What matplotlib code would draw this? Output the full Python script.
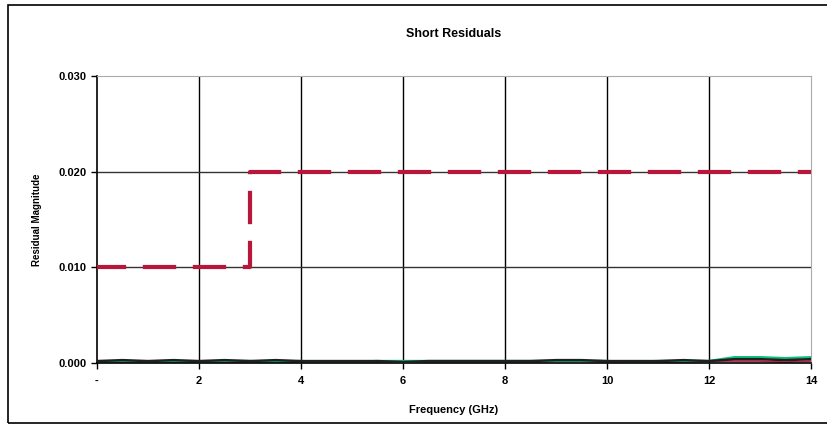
import matplotlib
matplotlib.use("Agg")
import matplotlib.pyplot as plt
import numpy as np

plt.rcParams['font.family'] = ['Liberation Sans', 'DejaVu Sans']
plt.rcParams['font.weight'] = 'bold'

# limit line (spec)
limitFreq = [0, 3, 3, 14]
limitVal = [0.010, 0.010, 0.020, 0.020]

freq = [0, 0.5, 1, 1.5, 2, 2.5, 3, 3.5, 4, 4.5, 5, 5.5, 6, 6.5, 7, 7.5, 8, 8.5,
        9, 9.5, 10, 10.5, 11, 11.5, 12, 12.5, 13, 13.5, 14]
resA = [0.0002, 0.0003, 0.0002, 0.0003, 0.0002, 0.0003, 0.0002, 0.0003, 0.0002, 0.0002,
        0.0002, 0.0002, 0.0001, 0.0002, 0.0002, 0.0002, 0.0002, 0.0002, 0.0003, 0.0003,
        0.0002, 0.0002, 0.0002, 0.0003, 0.0002, 0.0004, 0.0004, 0.0003, 0.0004]
resB = [0.0001, 0.0002, 0.0001, 0.0002, 0.0001, 0.0002, 0.0002, 0.0001, 0.0002, 0.0001,
        0.0001, 0.0002, 0.0002, 0.0002, 0.0002, 0.0002, 0.0002, 0.0002, 0.0002, 0.0002,
        0.0002, 0.0001, 0.0002, 0.0002, 0.0002, 0.0006, 0.0006, 0.0005, 0.0006]
resC = [0.0001, 0.0001, 0.0001, 0.0001, 0.0001, 0.0001, 0.0001, 0.0001, 0.0001, 0.0001,
        0.0001, 0.0001, 0.0001, 0.0001, 0.0001, 0.0001, 0.0001, 0.0001, 0.0002, 0.0002,
        0.0001, 0.0001, 0.0001, 0.0001, 0.0002, 0.0002, 0.0002, 0.0001, 0.0002]

xTicks = [0, 2, 4, 6, 8, 10, 12, 14]
xLabels = ['-', '2', '4', '6', '8', '10', '12', '14']
yTicks = [0.0, 0.01, 0.02, 0.03]

fig = plt.figure(figsize=(8.28, 4.33), dpi=100)
fig.patches.append(plt.Rectangle((8/828, 10/433), 1.0, 418/433, transform=fig.transFigure,
                                 fill=False, edgecolor='black', linewidth=1.2))
ax = fig.add_axes([97/828, 1-363/433, 714/828, 287/433])

for x in xTicks[1:-1]:
    ax.axvline(x, color='black', linewidth=1.0, zorder=1)
for y in yTicks[1:3]:
    ax.axhline(y, color='#333333', linewidth=1.0, zorder=1)

ax.plot(freq, resC, color='#c02040', linewidth=1.2, zorder=2)
ax.plot(freq, resB, color='#10c080', linewidth=1.8, zorder=2)
ax.plot(freq, resA, color='#202020', linewidth=1.8, zorder=3)
ax.plot(limitFreq, limitVal, color='#b8163a', linewidth=3, linestyle=(1, (8, 4)),
        solid_capstyle='butt', zorder=4)

ax.set_xlim(0, 14)
ax.set_ylim(0, 0.030)
ax.set_xticks(xTicks)
ax.set_xticklabels(xLabels)
ax.set_yticks(yTicks)
ax.set_yticklabels(['0.000', '0.010', '0.020', '0.030'])
ax.tick_params(labelsize=8, length=4, width=1, direction='out')
ax.tick_params(axis='x', pad=5)
ax.spines['top'].set_color('#aaaaaa')
ax.spines['right'].set_color('#aaaaaa')
ax.spines['left'].set_linewidth(1.2)
ax.spines['bottom'].set_linewidth(1.2)

ax.set_title('Short Residuals', fontsize=9, fontweight='bold', pad=28)
ax.set_xlabel('Frequency (GHz)', fontsize=8, fontweight='bold', labelpad=14)
ax.set_ylabel('Residual Magnitude', fontsize=7, fontweight='bold', labelpad=12)

fig.savefig('out.png', dpi=100)
